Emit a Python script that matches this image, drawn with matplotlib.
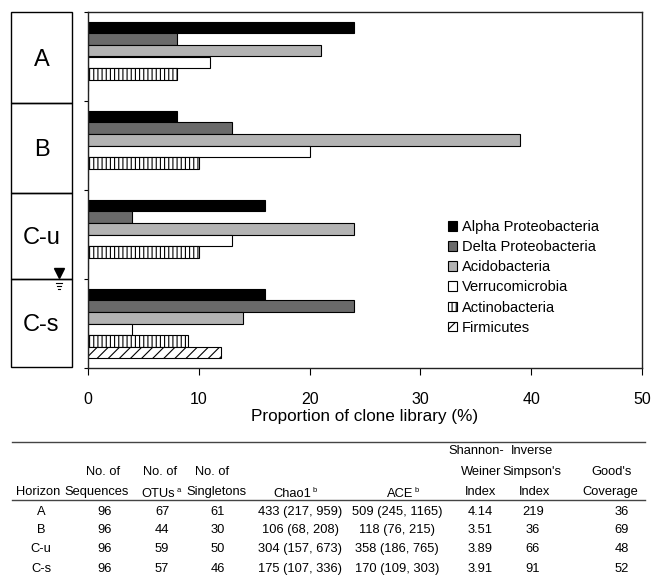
import matplotlib
matplotlib.use("Agg")
import matplotlib.pyplot as plt
from matplotlib.patches import Patch, Rectangle

plt.rcParams['font.family'] = ['Liberation Sans', 'DejaVu Sans']
plt.rcParams['hatch.linewidth'] = 0.8
plt.rcParams['hatch.color'] = 'black'

# ---- bar chart data (proportion of clone library, %) ----
horizons = ["A", "B", "C-u", "C-s"]
phyla = ["Alpha Proteobacteria", "Delta Proteobacteria", "Acidobacteria",
         "Verrucomicrobia", "Actinobacteria", "Firmicutes"]
alpha = [24, 8, 16, 16]
delta = [8, 13, 4, 24]
acido = [21, 39, 24, 14]
verruco = [11, 20, 13, 4]
actino = [8, 10, 10, 9]
firmicutes = [0, 0, 0, 12]

# ---- diversity table data ----
n_sequences = [96, 96, 96, 96]
n_otus = [67, 44, 59, 57]
n_singletons = [61, 30, 50, 46]
chao1 = ["433 (217, 959)", "106 (68, 208)", "304 (157, 673)", "175 (107, 336)"]
ace = ["509 (245, 1165)", "118 (76, 215)", "358 (186, 765)", "170 (109, 303)"]
shannon = ["4.14", "3.51", "3.89", "3.91"]
inv_simpson = [219, 36, 66, 91]
goods = [36, 69, 48, 52]

series = [alpha, delta, acido, verruco, actino, firmicutes]
fills = ["black", "#6a6a6a", "#b3b3b3", "white", "white", "white"]
hatches = [None, None, None, None, "||||", "///"]

W, H = 653, 576
fig = plt.figure(figsize=(W / 100, H / 100), dpi=100)

# main bar axes
ax = fig.add_axes([88 / W, 1 - 368 / H, (642 - 88) / W, (368 - 12) / H])
bh = 0.13
for i, (vals, fc, ht) in enumerate(zip(series, fills, hatches)):
    ys = [g + (i - 2.5) * bh for g in range(len(horizons))]
    ax.barh(ys, vals, height=bh, color=fc, edgecolor="black",
            hatch=ht, linewidth=0.8, label=phyla[i])

ax.set_xlim(0, 50)
ax.set_ylim(len(horizons) - 0.5, -0.5)
ax.set_yticks([g - 0.5 for g in range(len(horizons) + 1)])
ax.set_yticklabels([])
ax.tick_params(axis="y", length=3, width=0.8, direction="out")
ax.set_xticks(range(0, 51, 10))
ax.tick_params(axis="x", length=5, width=0.8, direction="out",
               pad=12, labelsize=11.5)
ax.set_xlabel("Proportion of clone library (%)", fontsize=12.3, labelpad=2)
for s in ax.spines.values():
    s.set_linewidth(1.0)
    s.set_color("#222222")

handles = [Patch(facecolor=fc, edgecolor="black", hatch=ht, linewidth=0.8)
           for fc, ht in zip(fills, hatches)]
fig.legend(handles, phyla, loc="upper left",
           bbox_to_anchor=(448 / W, 1 - 220 / H), frameon=False,
           fontsize=10.5, handlelength=0.65, handleheight=0.65,
           handletextpad=0.3, labelspacing=0.42, borderpad=0,
           borderaxespad=0)

# overlay axes in pixel coordinates for the horizon boxes and the table
ov = fig.add_axes([0, 0, 1, 1])
ov.set_xlim(0, W)
ov.set_ylim(H, 0)
ov.axis("off")

box_edges = [12, 103, 193, 279, 367]
for k, name in enumerate(horizons):
    top, bot = box_edges[k], box_edges[k + 1]
    ov.add_patch(Rectangle((11, top), 61, bot - top, fill=False,
                           edgecolor="black", linewidth=1.0))
    ov.text(41.5, (top + bot) / 2 + 2, name, fontsize=17,
            ha="center", va="center")

# water table symbol
ov.plot([59], [272.5], marker="v", color="black", markersize=7)
for yy, half in [(283, 3), (286, 2.2), (289, 1.4)]:
    ov.plot([59 - half, 59 + half], [yy, yy], color="black", linewidth=0.8)

# table
fs = 9.3
ov.plot([12, 645], [442, 442], color="#444444", linewidth=1.0)
ov.plot([12, 645], [500, 500], color="#444444", linewidth=1.0)

header = [
    ("Shannon-", 476, 451), ("Inverse", 532, 451),
    ("No. of", 103, 472), ("No. of", 160, 472), ("No. of", 212, 472),
    ("Weiner", 481, 472), ("Simpson's", 532, 472), ("Good's", 612, 472),
    ("Horizon", 38, 492), ("Sequences", 97, 492), ("Singletons", 216, 492),
    ("Index", 481, 492), ("Index", 535, 492), ("Coverage", 610, 492),
]
for txt, x, y in header:
    ov.text(x, y, txt, fontsize=fs, ha="center", va="center")
for txt, sup, x, y in [("OTUs", "a", 175, 494), ("Chao1", "b", 311, 494),
                       ("ACE", "b", 413, 494)]:
    ov.text(x, y, txt, fontsize=fs, ha="right", va="center")
    ov.text(x + 2, y - 3, sup, fontsize=5.5, ha="left", va="center")

columns = [(horizons, 41), (n_sequences, 105), (n_otus, 162),
           (n_singletons, 218), (chao1, 300), (ace, 397), (shannon, 480),
           (inv_simpson, 533), (goods, 622)]
row_y = [512, 530, 549, 569]
for vals, x in columns:
    for v, y in zip(vals, row_y):
        ov.text(x, y, str(v), fontsize=fs, ha="center", va="center")

fig.savefig("out.png", dpi=100)
